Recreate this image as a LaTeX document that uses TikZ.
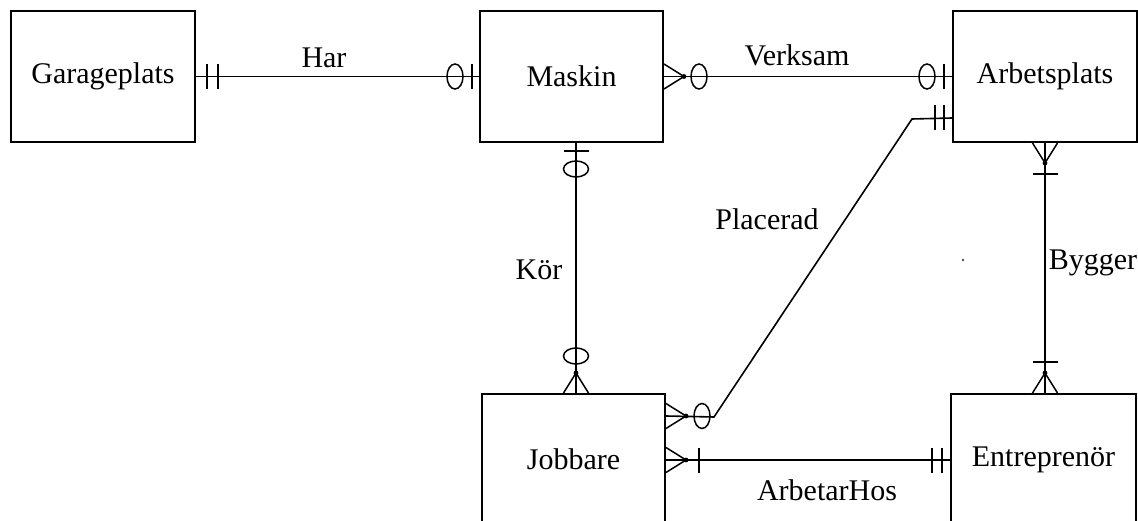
\documentclass[tikz,border=0pt]{standalone}
\usepackage{fontspec}
\setmainfont{Liberation Serif}
\usetikzlibrary{calc}

% Crow's-foot notation, drawn in a local frame whose x axis points
% away from the entity box along the connector (origin on the box edge).
\newcommand\ercrow[2]{%
  \begin{scope}[shift={(#1)},rotate=#2]
    \draw[notation] (0,-12.5) -- (20,0) -- (0,12.5);
    \fill (20,0) circle (2.4);
  \end{scope}}
\newcommand\erbar[3]{%
  \begin{scope}[shift={(#1)},rotate=#2]
    \draw[barline] (#3,-12.5) -- (#3,12.5);
  \end{scope}}
\newcommand\erring[3]{%
  \begin{scope}[shift={(#1)},rotate=#2]
    \draw[notation] (#3,0) ellipse [x radius=8, y radius=12.5];
  \end{scope}}

\begin{document}
\begin{tikzpicture}[x=1pt,y=-1pt,
  entity/.style={draw, line width=2pt, minimum width=184pt,
    minimum height=131pt, inner sep=0pt,
    font=\fontsize{30}{36}\selectfont},
  rel/.style={font=\fontsize{30}{36}\selectfont, inner sep=0pt, anchor=base},
  conn/.style={line width=1.6pt},
  notation/.style={line width=1.5pt},
  barline/.style={line width=1.8pt}]

\useasboundingbox (0,0) rectangle (1138,521);
\clip (0,0) rectangle (1138,521);

% Entities
\node[entity] (G) at (103,76.5) {Garageplats};
\node[entity, minimum width=183pt] (M) at (571.5,76.5) {Maskin};
\node[entity] (A) at (1045,76.5) {Arbetsplats};
\node[entity, minimum width=183pt] (J) at (573.5,459.5) {Jobbare};
\node[entity, minimum width=185pt] (E) at (1043.5,459.5) {Entreprenör};

% Connector end points
\coordinate (k1) at ($(M.south west)+(97,0)$);
\coordinate (k2) at ($(J.north west)+(95,0)$);
\coordinate (p1) at ($(J.north east)+(0,23)$);
\coordinate (p2) at (714,417);
\coordinate (p3) at (912,119);
\coordinate (p4) at ($(A.north west)+(0,108)$);
\coordinate (b1) at ($(A.south west)+(93,0)$);
\coordinate (b2) at ($(E.north west)+(95,0)$);
\coordinate (a1) at ($(J.north east)+(0,67)$);
\coordinate (a2) at ($(E.north west)+(0,67)$);

% Relationships
\draw[conn] (G.east) -- (M.west);
\draw[conn] (M.east) -- (A.west);
\draw[conn] (k1) -- (k2);
\draw[conn] (p1) -- (p2) -- (p3) -- (p4);
\draw[conn] (b1) -- (b2);
\draw[conn] (a1) -- (a2);

% Har
\erbar{G.east}{0}{11}
\erbar{G.east}{0}{22}
\erbar{M.west}{180}{7}
\erring{M.west}{180}{24}

% Verksam
\ercrow{M.east}{0}
\erring{M.east}{0}{35}
\erbar{A.west}{180}{8}
\erring{A.west}{180}{25}

% Kör
\erbar{k1}{-90}{8}
\erring{k1}{-90}{26}
\ercrow{k2}{90}
\erring{k2}{90}{37}

% Placerad
\ercrow{p1}{0}
\erring{p1}{0}{36}
\erbar{p4}{180}{8}
\erbar{p4}{180}{17}

% Bygger
\ercrow{b1}{-90}
\erbar{b1}{-90}{31}
\ercrow{b2}{90}
\erbar{b2}{90}{31}

% ArbetarHos
\ercrow{a1}{0}
\erbar{a1}{0}{33}
\erbar{a2}{180}{8}
\erbar{a2}{180}{18}

% Relationship names
\node[rel] (lhar) at (324,68) {Har};
\node[rel] (lverk) at (797,66) {Verksam};
\node[rel] (lkor) at (539,280) {Kör};
\node[rel] (lplac) at (767,230) {Placerad};
\node[rel] (lbyg) at (1093,270) {Bygger};
\node[rel] (larb) at (827,500) {ArbetarHos};

% stray speck
\fill[black!70] (963,260) circle (1.3);

\end{tikzpicture}
\end{document}
